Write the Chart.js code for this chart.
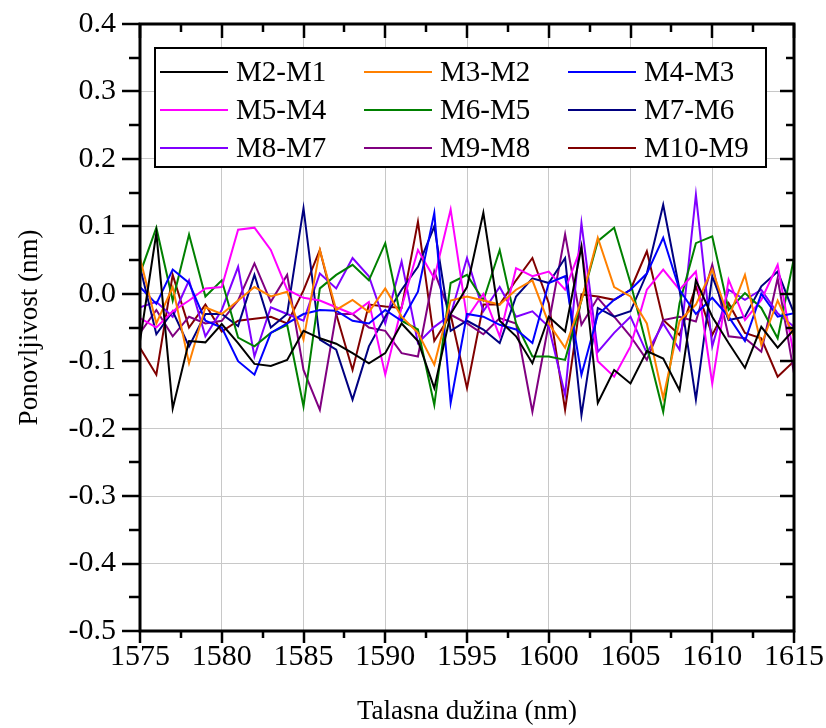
<!DOCTYPE html>
<html>
<head>
<meta charset="utf-8">
<script src="https://cdn.jsdelivr.net/npm/chart.js@4.4.1/dist/chart.umd.min.js"></script>
<style>
html, body { margin: 0; padding: 0; background: #fff; }
#wrap { width: 826px; height: 728px; }
</style>
</head>
<body>
<div id="wrap"><canvas id="chart" width="826" height="728"></canvas></div>
<script>
// wavelength (nm)
const wavelengths = [1575, 1576, 1577, 1578, 1579, 1580, 1581, 1582, 1583, 1584,
    1585, 1586, 1587, 1588, 1589, 1590, 1591, 1592, 1593, 1594,
    1595, 1596, 1597, 1598, 1599, 1600, 1601, 1602, 1603, 1604,
    1605, 1606, 1607, 1608, 1609, 1610, 1611, 1612, 1613, 1614, 1615];

const seriesLabels = ['M2-M1', 'M3-M2', 'M4-M3', 'M5-M4', 'M6-M5', 'M7-M6', 'M8-M7', 'M9-M8', 'M10-M9'];
const seriesColors = ['#000000', '#ff8000', '#0000ff', '#ff00ff', '#008000', '#000080', '#8000ff', '#800080', '#800000'];

const m2m1 = [-0.07, 0.09, -0.17, -0.07, -0.072, -0.045, -0.073, -0.104, -0.107, -0.098,
    -0.055, -0.066, -0.074, -0.088, -0.103, -0.088, -0.044, -0.07, -0.14, -0.03,
    0.01, 0.12, -0.04, -0.063, -0.103, -0.034, -0.056, 0.07, -0.162, -0.113,
    -0.133, -0.085, -0.096, -0.143, 0.02, -0.034, -0.073, -0.11, -0.049, -0.08, -0.053];
const m3m2 = [0.053, -0.044, 0.01, -0.103, -0.02, -0.03, -0.01, 0.01, -0.004, 0.003,
    -0.068, 0.065, -0.024, -0.009, -0.027, 0.008, -0.034, -0.058, -0.105, -0.01,
    -0.004, -0.01, -0.016, 0.006, 0.02, -0.044, -0.08, -0.01, 0.083, 0.01,
    -0.004, -0.044, -0.155, -0.04, -0.016, 0.036, -0.036, 0.028, -0.076, -0.01, -0.063];
const m4m3 = [0.01, -0.015, 0.036, 0.016, -0.04, -0.05, -0.1, -0.12, -0.058, -0.044,
    -0.03, -0.024, -0.025, -0.04, -0.044, -0.024, -0.04, 0.003, 0.12, -0.162,
    -0.03, -0.034, -0.046, -0.053, -0.073, 0.016, 0.026, -0.12, -0.031, -0.009,
    0.006, 0.03, 0.083, 0.006, -0.03, -0.006, -0.034, -0.07, 0.0, -0.034, -0.029];
const m5m4 = [-0.036, -0.05, -0.026, -0.01, 0.008, 0.01, 0.095, 0.098, 0.065, 0.006,
    -0.006, -0.01, -0.02, -0.03, -0.012, -0.12, -0.02, 0.065, 0.023, 0.125,
    -0.036, 0.0, -0.063, 0.038, 0.026, 0.033, 0.006, 0.07, -0.1, -0.123,
    -0.078, 0.006, 0.036, 0.006, 0.033, -0.133, 0.021, -0.039, -0.009, 0.043, -0.093];
const m6m5 = [0.03, 0.098, -0.01, 0.088, -0.004, 0.02, -0.065, -0.078, -0.058, -0.046,
    -0.167, 0.008, 0.028, 0.043, 0.02, 0.075, -0.04, -0.053, -0.165, 0.016,
    0.028, -0.01, 0.065, -0.044, -0.093, -0.093, -0.098, -0.01, 0.078, 0.098,
    0.016, -0.078, -0.175, -0.014, 0.075, 0.085, -0.024, 0.001, -0.021, -0.066, 0.053];
const m7m6 = [0.04, -0.06, -0.026, -0.078, -0.03, -0.03, -0.048, 0.028, -0.05, -0.03,
    0.127, -0.068, -0.083, -0.157, -0.078, -0.034, 0.006, 0.04, 0.1, -0.055,
    -0.04, -0.053, -0.073, -0.004, 0.023, 0.016, 0.053, -0.18, -0.021, -0.034,
    -0.026, 0.03, 0.132, 0.006, -0.157, 0.026, -0.039, -0.034, 0.011, 0.033, -0.029];
const m8m7 = [-0.02, -0.012, -0.034, 0.02, -0.063, -0.024, 0.04, -0.093, -0.02, -0.03,
    -0.04, 0.03, 0.008, 0.053, 0.026, -0.044, 0.048, -0.073, -0.049, -0.031,
    0.053, -0.026, 0.01, -0.034, -0.026, -0.049, -0.15, 0.105, -0.086, -0.058,
    -0.034, -0.088, -0.044, -0.083, 0.147, -0.078, 0.006, -0.009, 0.006, -0.029, -0.049];
const m9m8 = [-0.058, -0.024, -0.063, -0.034, -0.044, -0.04, -0.01, 0.045, -0.012, 0.028,
    -0.113, -0.172, -0.03, -0.03, -0.05, -0.055, -0.088, -0.093, 0.033, -0.031,
    -0.044, -0.06, -0.036, -0.044, -0.175, -0.044, 0.088, -0.046, -0.006, -0.034,
    -0.063, -0.098, -0.039, -0.034, -0.041, 0.043, -0.063, -0.066, -0.086, 0.023, -0.118];
const m10m9 = [-0.08, -0.12, 0.028, -0.05, -0.016, -0.056, -0.04, -0.037, -0.034, -0.044,
    0.005, 0.065, -0.03, -0.113, -0.016, -0.019, -0.021, 0.107, -0.07, -0.031,
    -0.14, -0.016, -0.016, 0.02, 0.053, -0.014, -0.172, -0.001, -0.004, -0.009,
    0.006, 0.063, -0.039, -0.061, 0.011, -0.061, -0.014, -0.058, -0.066, -0.123, -0.1];

const seriesValues = [m2m1, m3m2, m4m3, m5m4, m6m5, m7m6, m8m7, m9m8, m10m9];

const FONT = '"Liberation Serif", "Times New Roman", serif';

// frame, minor/major ticks (out on bottom/left, in on top/right) and legend box
const frameTicksLegend = {
    id: 'frameTicksLegend',
    afterDatasetsDraw(chart) {
        const { ctx, chartArea: a, scales: { x, y } } = chart;
        ctx.save();
        ctx.strokeStyle = '#000';
        ctx.lineCap = 'butt';

        const seg = (x1, y1, x2, y2) => {
            ctx.beginPath();
            ctx.moveTo(x1, y1);
            ctx.lineTo(x2, y2);
            ctx.stroke();
        };

        ctx.lineWidth = 2.5;
        for (let v = x.min; v <= x.max + 1e-9; v += 2.5) {
            const px = Math.round(x.getPixelForValue(v));
            const major = Math.abs(v % 5) < 1e-9;
            seg(px, a.bottom, px, a.bottom + (major ? 12 : 7));
            seg(px, a.top, px, a.top + (major ? 14 : 8));
        }
        for (let i = 0; i <= 18; i++) {
            const v = y.min + i * 0.05;
            const py = Math.round(y.getPixelForValue(v));
            const major = i % 2 === 0;
            seg(a.left - (major ? 18 : 11), py, a.left, py);
            seg(a.right - (major ? 14 : 8), py, a.right, py);
        }

        ctx.lineWidth = 3;
        ctx.strokeRect(a.left, a.top, a.right - a.left, a.bottom - a.top);

        // legend
        const box = { left: 155, top: 48, right: 766, bottom: 167 };
        ctx.fillStyle = '#fff';
        ctx.fillRect(box.left, box.top, box.right - box.left, box.bottom - box.top);
        ctx.lineWidth = 2;
        ctx.strokeRect(box.left, box.top, box.right - box.left, box.bottom - box.top);

        const colX = [160, 364, 568];
        const rowY = [72, 110, 148];
        ctx.font = '29px ' + FONT;
        ctx.textBaseline = 'middle';
        ctx.textAlign = 'left';
        chart.data.datasets.forEach((ds, i) => {
            const cx = colX[i % 3];
            const cy = rowY[Math.floor(i / 3)];
            ctx.strokeStyle = ds.borderColor;
            ctx.lineWidth = 2;
            seg(cx, cy, cx + 68, cy);
            ctx.fillStyle = '#000';
            ctx.fillText(ds.label, cx + 76, cy + 1);
        });
        ctx.restore();
    }
};

const ctx = document.getElementById('chart').getContext('2d');
new Chart(ctx, {
    type: 'line',
    data: {
        datasets: seriesLabels.map((label, i) => ({
            label: label,
            data: wavelengths.map((w, j) => ({ x: w, y: seriesValues[i][j] })),
            borderColor: seriesColors[i],
            backgroundColor: seriesColors[i],
            borderWidth: 2,
            pointRadius: 0,
            tension: 0,
            fill: false
        }))
    },
    options: {
        responsive: false,
        animation: false,
        devicePixelRatio: 1,
        layout: {
            padding: { left: 0, top: 24, right: 32, bottom: 0 }
        },
        scales: {
            x: {
                type: 'linear',
                min: 1575,
                max: 1615,
                ticks: {
                    stepSize: 5,
                    color: '#000',
                    padding: 8,
                    maxRotation: 0,
                    autoSkip: false,
                    font: { family: FONT, size: 30 },
                    callback: v => String(v)
                },
                grid: { color: '#c8c8c8', lineWidth: 1, drawTicks: false },
                border: { display: false },
                title: {
                    display: true,
                    text: 'Talasna dužina (nm)',
                    color: '#000',
                    font: { family: FONT, size: 27 },
                    padding: { top: 0, bottom: 0 }
                },
                afterFit: scale => {
                    scale.height = 97;
                    scale.paddingLeft = 0;
                    scale.paddingRight = 0;
                }
            },
            y: {
                min: -0.5,
                max: 0.4,
                ticks: {
                    stepSize: 0.1,
                    color: '#000',
                    padding: 24,
                    font: { family: FONT, size: 30 },
                    callback: v => (Math.abs(v) < 1e-9 ? 0 : v).toFixed(1)
                },
                grid: { color: '#c8c8c8', lineWidth: 1, drawTicks: false },
                border: { display: false },
                title: {
                    display: true,
                    text: 'Ponovljivost (nm)',
                    color: '#000',
                    font: { family: FONT, size: 27 },
                    padding: { top: 14, bottom: 0 }
                },
                afterFit: scale => {
                    scale.width = 140;
                    scale.paddingTop = 0;
                    scale.paddingBottom = 0;
                }
            }
        },
        plugins: {
            legend: { display: false },
            tooltip: { enabled: false }
        }
    },
    plugins: [frameTicksLegend]
});
</script>
</body>
</html>
